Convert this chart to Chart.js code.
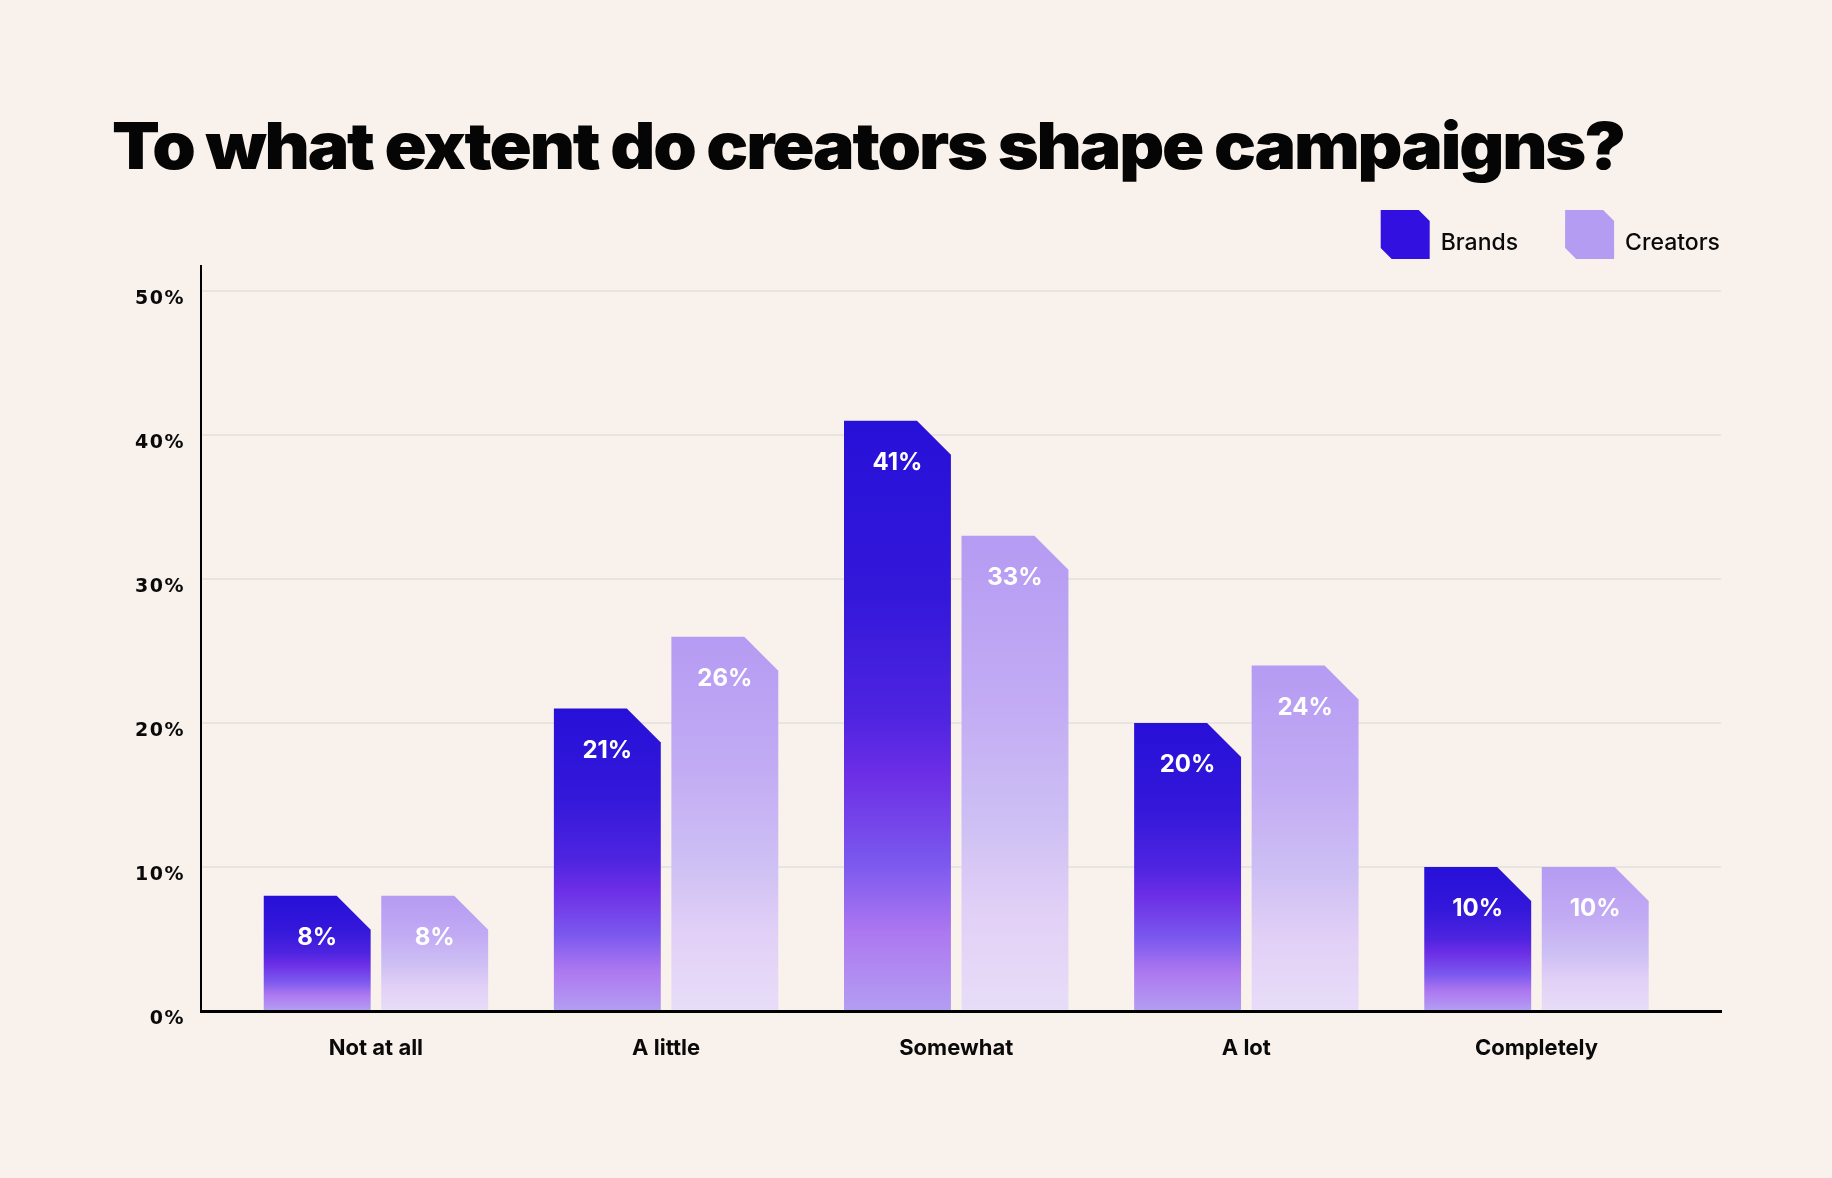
<!DOCTYPE html>
<html>
<head>
<meta charset="utf-8">
<script src="https://cdn.jsdelivr.net/npm/chart.js@4.4.1/dist/chart.umd.min.js"></script>
<style>
  html, body { margin: 0; padding: 0; background: #f9f2ec; }
  #wrap { position: relative; width: 1832px; height: 1178px; }
  #chart { position: absolute; left: 0; top: 0; }
  h1 {
    position: absolute; left: 112px; top: 113px; margin: 0; z-index: 1; white-space: nowrap;
    font: 900 65px Inter, sans-serif; line-height: 1; letter-spacing: -2px; color: #050505;
    transform: scaleX(1.073); transform-origin: left top;
  }
</style>
</head>
<body>
<div id="wrap">
  <canvas id="chart" width="1832" height="1178"></canvas>
  <h1>To what extent do creators shape campaigns?</h1>
</div>
<script>
// data
const categories = ['Not at all', 'A little', 'Somewhat', 'A lot', 'Completely'];
const brands = [8, 21, 41, 20, 10];
const creators = [8, 26, 33, 24, 10];
const yTicks = [0, 10, 20, 30, 40, 50];

// colours, top of bar -> bottom of bar
const brandStops = [[0, '#2710d8'], [0.3, '#3418da'], [0.5, '#4e24e0'], [0.6, '#6c2ee6'],
  [0.75, '#7b58ee'], [0.87, '#ad78f0'], [1, '#b39df2']];
const creatorStops = [[0, '#b59bf2'], [0.35, '#c2abf4'], [0.6, '#cdbff4'], [0.8, '#e2d0f6'], [1, '#e7ddf8']];

// bars with the top right corner cut off
const cutBars = {
  id: 'cutBars',
  beforeDraw(chart) {
    // wide spacing for the y tick labels, which draw before the datasets
    chart.ctx.letterSpacing = '1.5px';
  },
  beforeDatasetsDraw(chart) {
    chart.ctx.letterSpacing = '0px';
  },
  beforeDatasetDraw(chart, args) {
    const {ctx} = chart;
    const ds = chart.data.datasets[args.index];
    args.meta.data.forEach(bar => {
      const {x, y, base, width} = bar.getProps(['x', 'y', 'base', 'width'], true);
      const l = x - width / 2, r = x + width / 2;
      const cut = Math.min(34, base - y);
      const g = ctx.createLinearGradient(0, y, 0, base);
      ds.stops.forEach(([o, c]) => g.addColorStop(o, c));
      ctx.save();
      ctx.beginPath();
      ctx.moveTo(l, base);
      ctx.lineTo(l, y);
      ctx.lineTo(r - cut, y);
      ctx.lineTo(r, y + cut);
      ctx.lineTo(r, base);
      ctx.closePath();
      ctx.fillStyle = g;
      ctx.fill();
      ctx.restore();
    });
    return false;
  }
};

const valueLabels = {
  id: 'valueLabels',
  afterDatasetsDraw(chart) {
    const {ctx} = chart;
    ctx.save();
    ctx.font = '700 24px Inter';
    ctx.fillStyle = '#ffffff';
    ctx.textAlign = 'center';
    ctx.textBaseline = 'middle';
    chart.data.datasets.forEach((ds, di) => {
      chart.getDatasetMeta(di).data.forEach((bar, i) => {
        ctx.fillText(ds.data[i].y + '%', bar.x, bar.y + 42);
      });
    });
    ctx.restore();
  }
};

const legendBoxes = {
  id: 'legendBoxes',
  afterDraw(chart) {
    const {ctx, chartArea} = chart;
    const size = 49, c = 11, gap = 11, spacing = 47;
    const top = chartArea.top - 56;
    let right = chartArea.right - 1;
    ctx.save();
    ctx.font = '500 23px Inter';
    ctx.textBaseline = 'alphabetic';
    for (let i = chart.data.datasets.length - 1; i >= 0; i--) {
      const ds = chart.data.datasets[i];
      const tw = ctx.measureText(ds.label).width;
      const tx = right - tw;
      const bx = tx - gap - size;
      ctx.beginPath();
      ctx.moveTo(bx, top);
      ctx.lineTo(bx + size - c, top);
      ctx.lineTo(bx + size, top + c);
      ctx.lineTo(bx + size, top + size);
      ctx.lineTo(bx + c, top + size);
      ctx.lineTo(bx, top + size - c);
      ctx.closePath();
      ctx.fillStyle = ds.legendColor;
      ctx.fill();
      ctx.fillStyle = '#0a0a0a';
      ctx.fillText(ds.label, tx, top + 40);
      right = bx - spacing;
    }
    ctx.restore();
  }
};

const chart = new Chart(document.getElementById('chart'), {
  type: 'bar',
  data: {
    datasets: [
      {label: 'Brands', data: brands.map((v, i) => ({x: i, y: v})), stops: brandStops, legendColor: '#3210df'},
      {label: 'Creators', data: creators.map((v, i) => ({x: i, y: v})), stops: creatorStops, legendColor: '#b39cf2'}
    ]
  },
  options: {
    responsive: false,
    animation: false,
    categoryPercentage: 0.81,
    barPercentage: 0.91,
    layout: {padding: {top: 266, right: 111, left: 0, bottom: 0}},
    plugins: {legend: {display: false}, tooltip: {enabled: false}},
    scales: {
      x: {
        type: 'linear',
        offset: false,
        min: -0.603,
        max: 4.636,
        afterBuildTicks: s => { s.ticks = categories.map((_, i) => ({value: i})); },
        afterFit: s => { s.height = 167; },
        grid: {display: false, offset: false},
        border: {color: '#000', width: 3, z: 1},
        ticks: {
          callback: v => categories[v],
          color: '#0a0a0a',
          padding: 16,
          z: 1,
          font: {family: 'Inter', size: 22, weight: '700'}
        }
      },
      y: {
        min: 0,
        max: 51.74,
        afterBuildTicks: s => { s.ticks = yTicks.map(v => ({value: v})); },
        afterFit: s => { s.width = 201; },
        grid: {color: '#e8e4df', lineWidth: 2, drawTicks: false},
        border: {color: '#000', width: 2, z: 1},
        ticks: {
          callback: v => v + '%',
          color: '#0a0a0a',
          padding: 16,
          labelOffset: 8,
          font: {family: 'DejaVu Sans', size: 19, weight: 'bold'}
        }
      }
    }
  },
  plugins: [cutBars, valueLabels, legendBoxes]
});
</script>
</body>
</html>
